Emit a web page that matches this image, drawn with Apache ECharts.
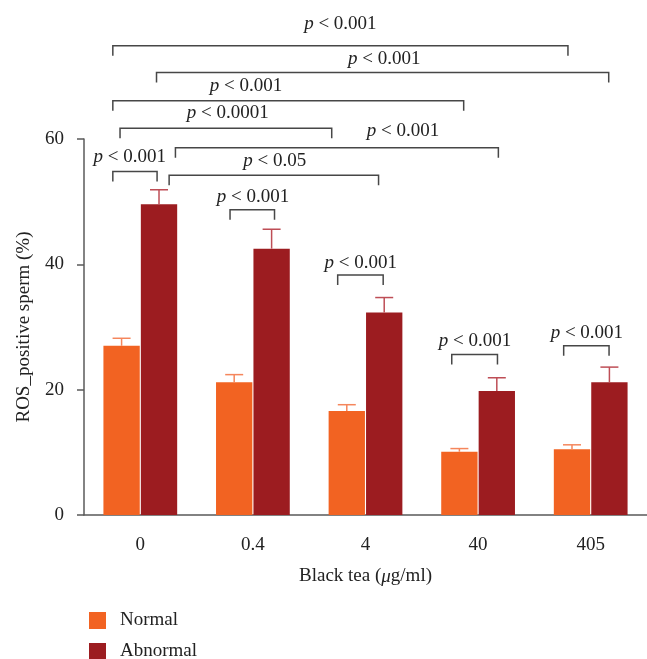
<!DOCTYPE html>
<html>
<head>
<meta charset="utf-8">
<script src="https://cdn.jsdelivr.net/npm/echarts@6/dist/echarts.min.js"></script>
<style>html,body{margin:0;padding:0;background:#fff;}#c{width:647px;height:659px;}</style>
</head>
<body>
<div id="c"></div>
<script>
// ---- data ----
const categories = ['0', '0.4', '4', '40', '405'];
const normalMean = [27.0, 21.2, 16.6, 10.1, 10.5];
const normalErr = [1.2, 1.2, 1.0, 0.5, 0.7];
const abnormalMean = [49.6, 42.5, 32.3, 19.8, 21.2];
const abnormalErr = [2.3, 3.1, 2.4, 2.1, 2.4];
const yTicks = [0, 20, 40, 60];
const legendNames = ['Normal', 'Abnormal'];
// significance brackets (x in category units, y in % units)
const sigLabels = ['0.001', '0.001', '0.001', '0.0001', '0.001', '0.05', '0.001', '0.001', '0.001', '0.001', '0.001'];
const sigFrom   = [-0.244, 0.144, -0.244, -0.18, 0.312, 0.256, -0.244, 0.797, 1.753, 2.766, 3.76];
const sigTo     = [3.798, 4.160, 2.872, 1.70, 3.18, 2.116, 0.149, 1.192, 2.157, 3.172, 4.163];
const sigLevel  = [74.9, 70.6, 66.1, 61.7, 58.6, 54.2, 54.8, 48.7, 38.3, 25.6, 27.0];
const sigTextX  = [1.777, 2.166, 0.939, 0.777, 2.333, 1.195, -0.094, 1.0, 1.958, 2.973, 3.966];
const sigTextY  = [78.4, 72.7, 68.4, 64.1, 61.2, 56.5, 57.2, 50.8, 40.2, 27.7, 29.0];

// ---- style ----
const FONT = 'Liberation Serif';
const TXT = '#222';
const AX = '#5a5a5a';
const cNormal = '#F26322', cAbn = '#9C1C20';
const eNormal = '#F5865C', eAbn = '#BE4E56';
const CAT_GAP = 0.345, BAR_GAP = 0.03;

const chart = echarts.init(document.getElementById('c'), null, {renderer: 'canvas'});

function errorSeries(name, means, errs, side, color) {
  return {
    type: 'custom', name: name + ' err', xAxisIndex: 0, yAxisIndex: 0, z: 3,
    data: means.map((m, i) => [i, m, m + errs[i]]),
    encode: {x: 0, y: [1, 2]},
    silent: true,
    renderItem: function (params, api) {
      const band = api.size([1, 0])[0];
      const total = band * (1 - CAT_GAP);
      const bw = total / (2 + BAR_GAP);
      const off = side * (bw + bw * BAR_GAP) / 2;
      const base = api.coord([api.value(0), api.value(1)]);
      const top = api.coord([api.value(0), api.value(2)]);
      const x = base[0] + off;
      return {
        type: 'group',
        children: [
          {type: 'line', shape: {x1: x, y1: base[1], x2: x, y2: top[1]}, style: {stroke: color, lineWidth: 1.5}},
          {type: 'line', shape: {x1: x - 9, y1: top[1], x2: x + 9, y2: top[1]}, style: {stroke: color, lineWidth: 1.5}}
        ]
      };
    }
  };
}

const legendBase = {
  orient: 'horizontal', left: 84, itemWidth: 17, itemHeight: 17,
  icon: 'rect', textStyle: {fontFamily: FONT, fontSize: 19, color: TXT, padding: [0, 0, 0, 9]}
};

const option = {
  animation: false,
  backgroundColor: '#fff',
  textStyle: {fontFamily: FONT},
  grid: {left: 84, top: 139, bottom: 144, right: -4, containLabel: false},
  legend: [
    Object.assign({}, legendBase, {data: [legendNames[0]], top: 606}),
    Object.assign({}, legendBase, {data: [legendNames[1]], top: 637})
  ],
  xAxis: [
    {
      type: 'category', data: categories, boundaryGap: true,
      axisLine: {lineStyle: {color: AX, width: 1.5}},
      axisTick: {alignWithLabel: true, length: 7, lineStyle: {color: AX, width: 1.5}},
      axisLabel: {fontFamily: FONT, fontSize: 19, color: TXT, margin: 21},
      name: 'Black tea ({i|μ}g/ml)', nameLocation: 'middle', nameGap: 52,
      nameTextStyle: {fontFamily: FONT, fontSize: 19, color: TXT,
        rich: {i: {fontFamily: FONT, fontSize: 19, color: TXT, fontStyle: 'italic'}}}
    },
    {type: 'value', min: -0.5, max: 4.5, show: false, splitLine: {show: false}}
  ],
  yAxis: {
    type: 'value', min: 0, max: 60, interval: 20,
    splitLine: {show: false},
    axisLine: {show: true, onZero: false, lineStyle: {color: AX, width: 1.5}},
    axisTick: {show: true, length: 7, lineStyle: {color: AX, width: 1.5}},
    axisLabel: {fontFamily: FONT, fontSize: 19, color: TXT, margin: 20,
      formatter: v => yTicks.indexOf(v) >= 0 ? String(v) : ''},
    name: 'ROS_positive sperm (%)', nameLocation: 'middle', nameGap: 50,
    nameTextStyle: {fontFamily: FONT, fontSize: 19, color: TXT}
  },
  series: [
    {type: 'bar', name: 'Normal', data: normalMean, itemStyle: {color: cNormal},
      barGap: (BAR_GAP * 100) + '%', barCategoryGap: (CAT_GAP * 100) + '%', z: 2},
    {type: 'bar', name: 'Abnormal', data: abnormalMean, itemStyle: {color: cAbn},
      barGap: (BAR_GAP * 100) + '%', barCategoryGap: (CAT_GAP * 100) + '%', z: 2},
    errorSeries('Normal', normalMean, normalErr, -1, eNormal),
    errorSeries('Abnormal', abnormalMean, abnormalErr, 1, eAbn),
    {
      type: 'custom', name: 'sig', xAxisIndex: 1, yAxisIndex: 0, z: 4, silent: true, clip: false,
      data: sigLabels.map((t, i) => [sigFrom[i], sigTo[i], sigLevel[i], sigTextX[i], sigTextY[i]]),
      encode: {x: [0, 1, 3], y: [2, 4]},
      renderItem: function (params, api) {
        const i = params.dataIndex;
        const a = api.coord([api.value(0), api.value(2)]);
        const b = api.coord([api.value(1), api.value(2)]);
        const t = api.coord([api.value(3), api.value(4)]);
        const leg = 10;
        return {
          type: 'group',
          children: [
            {type: 'polyline', shape: {points: [[a[0], a[1] + leg], [a[0], a[1]], [b[0], b[1]], [b[0], b[1] + leg]]},
              style: {stroke: '#474747', lineWidth: 1.5, fill: null}},
            {type: 'text', x: t[0], y: t[1],
              style: {text: '{i|p} < ' + sigLabels[i], align: 'center', verticalAlign: 'middle',
                fontFamily: FONT, fontSize: 19, fill: TXT,
                rich: {i: {fontFamily: FONT, fontSize: 19, fontStyle: 'italic', fill: TXT}}}}
          ]
        };
      }
    }
  ]
};
chart.setOption(option);
</script>
</body>
</html>
